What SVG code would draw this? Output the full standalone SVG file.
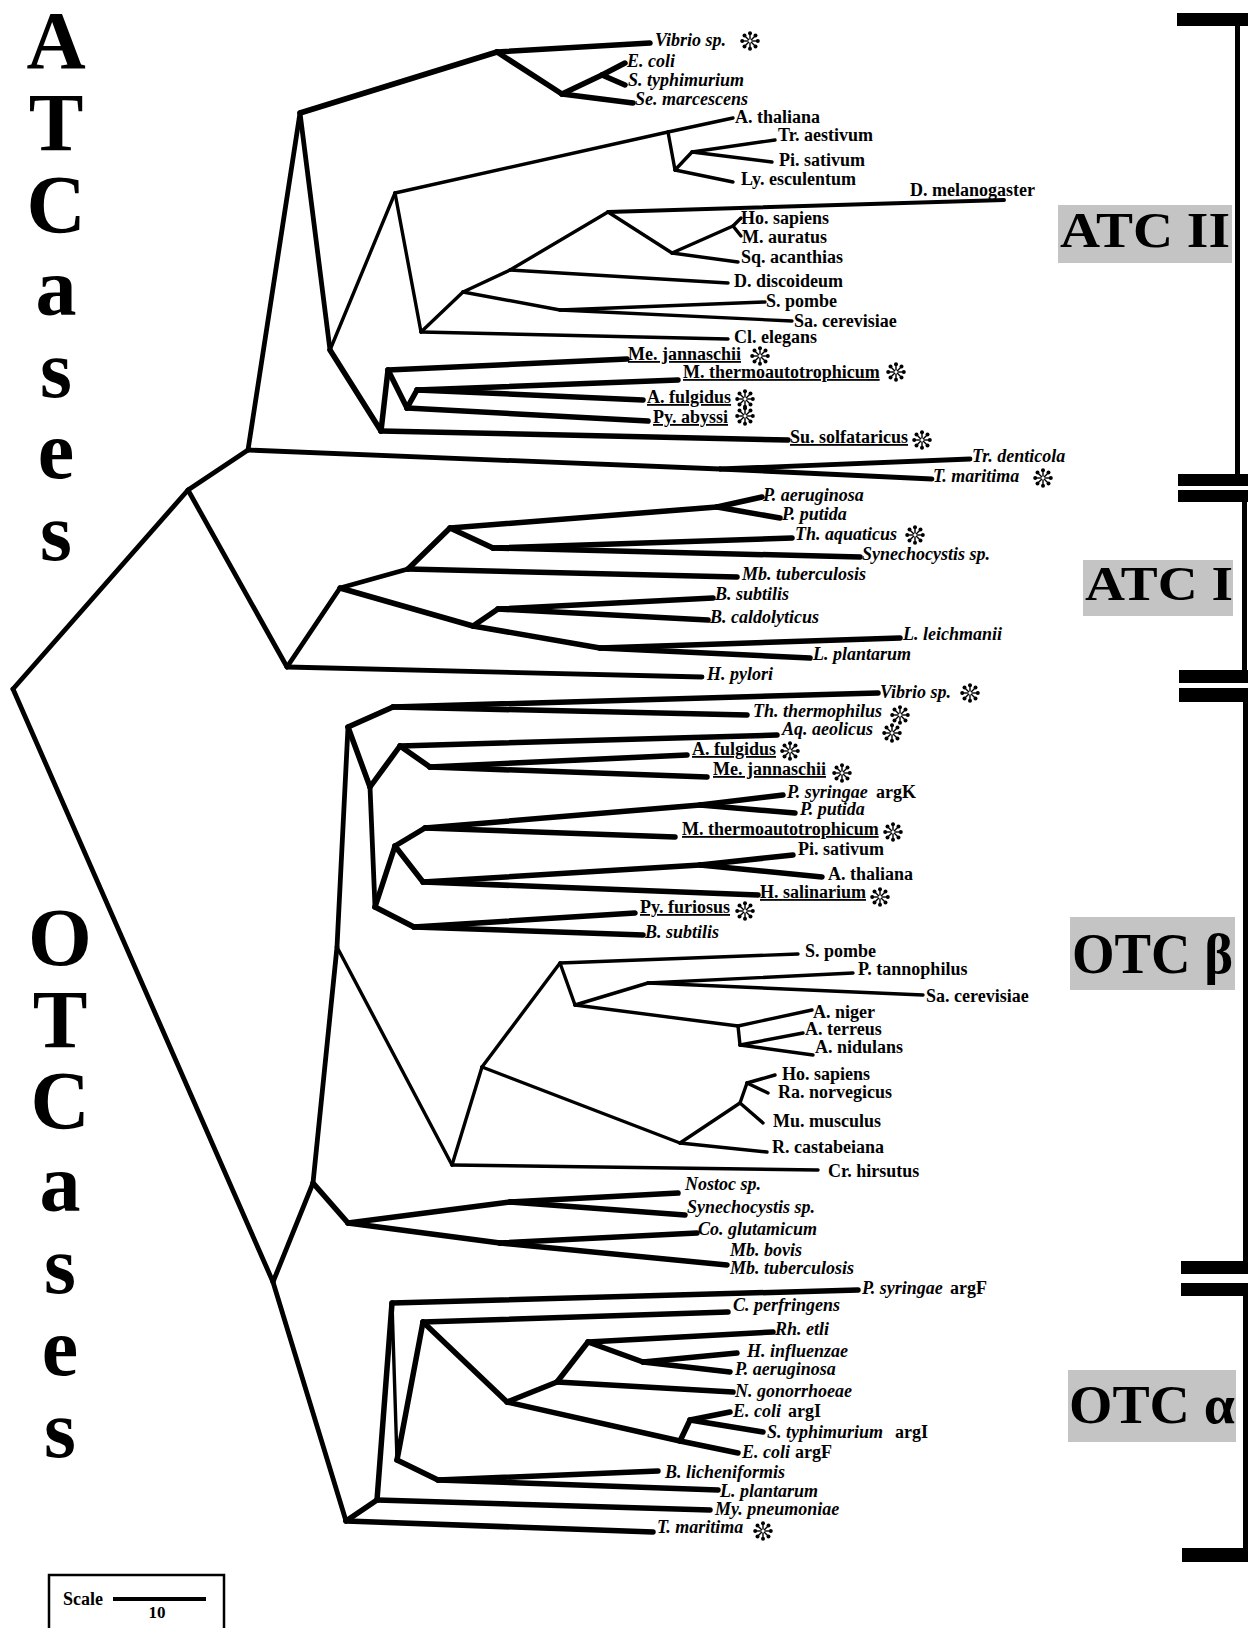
<svg xmlns="http://www.w3.org/2000/svg" width="1248" height="1628" viewBox="0 0 1248 1628">
<style>
text{font-family:"Liberation Serif","Times New Roman",serif;font-weight:bold;font-size:18px;fill:#000}
.i{font-style:italic}
.u{text-decoration:underline}
.big{font-size:82px;text-anchor:middle}
.box{fill:#c4c4c4}
.tag{font-size:50px}
#connectors line{stroke:#000;stroke-linecap:round;fill:none}
.k{stroke-width:5.5}
.m{stroke-width:4.8}
.t{stroke-width:3.4}
</style>
<defs>
<g id="ast" stroke="#000" fill="#000">
<line x1="0" y1="-1.5" x2="0" y2="-6.5" stroke-width="1.4"/>
<line x1="0" y1="1.5" x2="0" y2="6.5" stroke-width="1.4"/>
<line x1="1.5" y1="0" x2="6.5" y2="0" stroke-width="1.4"/>
<line x1="-1.5" y1="0" x2="-6.5" y2="0" stroke-width="1.4"/>
<line x1="1.1" y1="1.1" x2="4.6" y2="4.6" stroke-width="1.4"/>
<line x1="-1.1" y1="1.1" x2="-4.6" y2="4.6" stroke-width="1.4"/>
<line x1="1.1" y1="-1.1" x2="4.6" y2="-4.6" stroke-width="1.4"/>
<line x1="-1.1" y1="-1.1" x2="-4.6" y2="-4.6" stroke-width="1.4"/>
<circle cx="0" cy="-7.8" r="2" stroke="none"/>
<circle cx="0" cy="7.8" r="2" stroke="none"/>
<circle cx="7.8" cy="0" r="2" stroke="none"/>
<circle cx="-7.8" cy="0" r="2" stroke="none"/>
<circle cx="5.5" cy="5.5" r="2" stroke="none"/>
<circle cx="-5.5" cy="5.5" r="2" stroke="none"/>
<circle cx="5.5" cy="-5.5" r="2" stroke="none"/>
<circle cx="-5.5" cy="-5.5" r="2" stroke="none"/>
</g>
</defs>
<rect width="1248" height="1628" fill="#fff"/>

<g id="title-atcases">
<text class="big"><tspan x="56" y="68">A</tspan><tspan x="56" y="150">T</tspan><tspan x="56" y="232">C</tspan><tspan x="56" y="315">a</tspan><tspan x="56" y="397">s</tspan><tspan x="56" y="478">e</tspan><tspan x="56" y="560">s</tspan></text>
</g>
<g id="title-otcases">
<text class="big"><tspan x="60" y="965">O</tspan><tspan x="60" y="1047">T</tspan><tspan x="60" y="1128">C</tspan><tspan x="60" y="1211">a</tspan><tspan x="60" y="1293">s</tspan><tspan x="60" y="1375">e</tspan><tspan x="60" y="1457">s</tspan></text>
</g>

<g id="brackets" fill="#000">
<rect x="1177" y="13" width="71" height="13"/>
<rect x="1235" y="13" width="5" height="473"/>
<rect x="1178" y="474" width="70" height="12"/>
<rect x="1178" y="490" width="70" height="12"/>
<rect x="1242" y="490" width="5" height="193"/>
<rect x="1179" y="670" width="69" height="13"/>
<rect x="1179" y="688" width="69" height="14"/>
<rect x="1243" y="688" width="5" height="586"/>
<rect x="1181" y="1261" width="67" height="13"/>
<rect x="1181" y="1283" width="67" height="13"/>
<rect x="1243" y="1283" width="5" height="279"/>
<rect x="1182" y="1548" width="66" height="14"/>
</g>

<g id="label-atc2"><rect class="box" x="1058" y="205" width="174" height="58"/><text class="tag" x="1060" y="247" textLength="170" lengthAdjust="spacingAndGlyphs">ATC II</text></g>
<g id="label-atc1"><rect class="box" x="1083" y="560" width="150" height="56"/><text class="tag" x="1085" y="600" style="font-size:48px" textLength="148" lengthAdjust="spacingAndGlyphs">ATC I</text></g>
<g id="label-otcb"><rect class="box" x="1070" y="917" width="165" height="73"/><text class="tag" x="1072" y="973" style="font-size:58px" textLength="161" lengthAdjust="spacingAndGlyphs">OTC β</text></g>
<g id="label-otca"><rect class="box" x="1068" y="1370" width="168" height="72"/><text class="tag" x="1069" y="1423" style="font-size:54px" textLength="166" lengthAdjust="spacingAndGlyphs">OTC α</text></g>

<g id="connectors">
<line class="m" x1="13" y1="689" x2="188" y2="490"/>
<line class="m" x1="188" y1="490" x2="248" y2="450"/>
<line class="m" x1="248" y1="450" x2="300" y2="113"/>
<line class="m" x1="248" y1="450" x2="720" y2="469"/>
<line class="m" x1="720" y1="469" x2="970" y2="459"/>
<line class="m" x1="720" y1="469" x2="932" y2="479"/>
<line class="k" x1="300" y1="113" x2="497" y2="52"/>
<line class="k" x1="497" y1="52" x2="650" y2="43"/>
<line class="k" x1="497" y1="52" x2="562" y2="94"/>
<line class="k" x1="562" y1="94" x2="633" y2="103"/>
<line class="k" x1="562" y1="94" x2="602" y2="75"/>
<line class="k" x1="602" y1="75" x2="625" y2="63"/>
<line class="k" x1="602" y1="75" x2="625" y2="85"/>
<line class="m" x1="300" y1="113" x2="330" y2="350"/>
<line class="t" x1="330" y1="350" x2="395" y2="193"/>
<line class="t" x1="395" y1="193" x2="668" y2="132"/>
<line class="t" x1="668" y1="132" x2="733" y2="118"/>
<line class="t" x1="668" y1="132" x2="675" y2="170"/>
<line class="t" x1="675" y1="170" x2="692" y2="152"/>
<line class="t" x1="692" y1="152" x2="775" y2="140"/>
<line class="t" x1="692" y1="152" x2="772" y2="162"/>
<line class="t" x1="675" y1="170" x2="733" y2="182"/>
<line class="t" x1="395" y1="193" x2="421" y2="332"/>
<line class="t" x1="421" y1="332" x2="728" y2="339"/>
<line class="t" x1="421" y1="332" x2="463" y2="292"/>
<line class="t" x1="463" y1="292" x2="510" y2="270"/>
<line class="t" x1="463" y1="292" x2="560" y2="310"/>
<line class="t" x1="560" y1="310" x2="765" y2="302"/>
<line class="t" x1="560" y1="310" x2="792" y2="321"/>
<line class="t" x1="510" y1="270" x2="728" y2="283"/>
<line class="t" x1="510" y1="270" x2="608" y2="212"/>
<line class="t" x1="608" y1="212" x2="1004" y2="200" style="stroke-width:4"/>
<line class="t" x1="608" y1="212" x2="672" y2="253"/>
<line class="t" x1="672" y1="253" x2="733" y2="226"/>
<line class="t" x1="733" y1="226" x2="741" y2="218"/>
<line class="t" x1="733" y1="226" x2="741" y2="236"/>
<line class="t" x1="672" y1="253" x2="738" y2="262"/>
<line class="k" x1="330" y1="350" x2="381" y2="431"/>
<line class="k" x1="381" y1="431" x2="788" y2="440"/>
<line class="k" x1="381" y1="431" x2="388" y2="370"/>
<line class="k" x1="388" y1="370" x2="627" y2="359"/>
<line class="k" x1="388" y1="370" x2="407" y2="408"/>
<line class="k" x1="407" y1="408" x2="648" y2="421"/>
<line class="k" x1="407" y1="408" x2="417" y2="390"/>
<line class="k" x1="417" y1="390" x2="678" y2="380"/>
<line class="k" x1="417" y1="390" x2="643" y2="400"/>
<line class="m" x1="188" y1="490" x2="287" y2="667"/>
<line class="m" x1="287" y1="667" x2="702" y2="677"/>
<line class="m" x1="287" y1="667" x2="340" y2="588"/>
<line class="m" x1="340" y1="588" x2="408" y2="569"/>
<line class="k" x1="408" y1="569" x2="737" y2="577"/>
<line class="k" x1="408" y1="569" x2="450" y2="528"/>
<line class="k" x1="450" y1="528" x2="717" y2="507"/>
<line class="k" x1="717" y1="507" x2="762" y2="497"/>
<line class="k" x1="717" y1="507" x2="780" y2="518"/>
<line class="k" x1="450" y1="528" x2="493" y2="548"/>
<line class="k" x1="493" y1="548" x2="792" y2="538"/>
<line class="k" x1="493" y1="548" x2="860" y2="557"/>
<line class="k" x1="340" y1="588" x2="473" y2="626"/>
<line class="k" x1="473" y1="626" x2="498" y2="609"/>
<line class="k" x1="498" y1="609" x2="713" y2="598"/>
<line class="k" x1="498" y1="609" x2="708" y2="620"/>
<line class="k" x1="473" y1="626" x2="600" y2="648"/>
<line class="k" x1="600" y1="648" x2="900" y2="638"/>
<line class="k" x1="600" y1="648" x2="810" y2="658"/>
<line class="m" x1="13" y1="689" x2="273" y2="1282"/>
<line class="m" x1="273" y1="1282" x2="313" y2="1183"/>
<line class="m" x1="313" y1="1183" x2="337" y2="947"/>
<line class="m" x1="337" y1="947" x2="348" y2="727"/>
<line class="t" x1="337" y1="947" x2="452" y2="1165"/>
<line class="k" x1="348" y1="727" x2="393" y2="707"/>
<line class="k" x1="393" y1="707" x2="878" y2="693"/>
<line class="k" x1="393" y1="707" x2="747" y2="715"/>
<line class="k" x1="348" y1="727" x2="370" y2="787"/>
<line class="k" x1="370" y1="787" x2="400" y2="746"/>
<line class="k" x1="400" y1="746" x2="777" y2="735"/>
<line class="k" x1="400" y1="746" x2="430" y2="767"/>
<line class="k" x1="430" y1="767" x2="687" y2="755"/>
<line class="k" x1="430" y1="767" x2="707" y2="777"/>
<line class="m" x1="370" y1="787" x2="375" y2="907"/>
<line class="k" x1="375" y1="907" x2="395" y2="846"/>
<line class="k" x1="395" y1="846" x2="425" y2="828"/>
<line class="k" x1="425" y1="828" x2="675" y2="837"/>
<line class="k" x1="425" y1="828" x2="700" y2="805"/>
<line class="k" x1="700" y1="805" x2="783" y2="795"/>
<line class="k" x1="700" y1="805" x2="795" y2="813"/>
<line class="k" x1="395" y1="846" x2="423" y2="882"/>
<line class="k" x1="423" y1="882" x2="700" y2="865"/>
<line class="k" x1="700" y1="865" x2="793" y2="855"/>
<line class="k" x1="700" y1="865" x2="822" y2="877"/>
<line class="k" x1="423" y1="882" x2="758" y2="895"/>
<line class="k" x1="375" y1="907" x2="414" y2="927"/>
<line class="k" x1="414" y1="927" x2="635" y2="913"/>
<line class="k" x1="414" y1="927" x2="643" y2="935"/>
<line class="t" x1="452" y1="1165" x2="818" y2="1170"/>
<line class="t" x1="452" y1="1165" x2="482" y2="1067"/>
<line class="t" x1="482" y1="1067" x2="560" y2="963"/>
<line class="t" x1="560" y1="963" x2="798" y2="954"/>
<line class="t" x1="560" y1="963" x2="575" y2="1005"/>
<line class="t" x1="575" y1="1005" x2="648" y2="983"/>
<line class="t" x1="648" y1="983" x2="853" y2="973"/>
<line class="t" x1="648" y1="983" x2="923" y2="995"/>
<line class="t" x1="575" y1="1005" x2="738" y2="1026"/>
<line class="t" x1="738" y1="1026" x2="812" y2="1010"/>
<line class="t" x1="738" y1="1026" x2="740" y2="1045"/>
<line class="t" x1="740" y1="1045" x2="803" y2="1033"/>
<line class="t" x1="740" y1="1045" x2="813" y2="1055"/>
<line class="t" x1="482" y1="1067" x2="680" y2="1143"/>
<line class="t" x1="680" y1="1143" x2="767" y2="1152"/>
<line class="t" x1="680" y1="1143" x2="740" y2="1103"/>
<line class="t" x1="740" y1="1103" x2="763" y2="1123"/>
<line class="t" x1="740" y1="1103" x2="747" y2="1083"/>
<line class="t" x1="747" y1="1083" x2="775" y2="1075"/>
<line class="t" x1="747" y1="1083" x2="768" y2="1093"/>
<line class="k" x1="313" y1="1183" x2="348" y2="1223"/>
<line class="k" x1="348" y1="1223" x2="510" y2="1202"/>
<line class="k" x1="510" y1="1202" x2="678" y2="1193"/>
<line class="k" x1="510" y1="1202" x2="685" y2="1215"/>
<line class="k" x1="348" y1="1223" x2="500" y2="1243"/>
<line class="k" x1="500" y1="1243" x2="697" y2="1233"/>
<line class="k" x1="500" y1="1243" x2="727" y2="1265"/>
<line class="m" x1="273" y1="1282" x2="346" y2="1521"/>
<line class="k" x1="346" y1="1521" x2="653" y2="1532"/>
<line class="k" x1="346" y1="1521" x2="377" y2="1500"/>
<line class="k" x1="377" y1="1500" x2="710" y2="1510"/>
<line class="k" x1="377" y1="1500" x2="392" y2="1303"/>
<line class="k" x1="392" y1="1303" x2="858" y2="1290"/>
<line class="t" x1="392" y1="1303" x2="397" y2="1460"/>
<line class="k" x1="397" y1="1460" x2="423" y2="1322"/>
<line class="k" x1="423" y1="1322" x2="728" y2="1312"/>
<line class="k" x1="423" y1="1322" x2="507" y2="1402"/>
<line class="k" x1="507" y1="1402" x2="557" y2="1382"/>
<line class="k" x1="557" y1="1382" x2="733" y2="1392"/>
<line class="k" x1="557" y1="1382" x2="588" y2="1342"/>
<line class="k" x1="588" y1="1342" x2="773" y2="1332"/>
<line class="k" x1="588" y1="1342" x2="643" y2="1362"/>
<line class="k" x1="643" y1="1362" x2="737" y2="1353"/>
<line class="k" x1="643" y1="1362" x2="730" y2="1372"/>
<line class="k" x1="507" y1="1402" x2="680" y2="1441"/>
<line class="k" x1="680" y1="1441" x2="738" y2="1453"/>
<line class="k" x1="680" y1="1441" x2="690" y2="1420"/>
<line class="k" x1="690" y1="1420" x2="730" y2="1412"/>
<line class="k" x1="690" y1="1420" x2="763" y2="1432"/>
<line class="k" x1="397" y1="1460" x2="438" y2="1480"/>
<line class="k" x1="438" y1="1480" x2="658" y2="1471"/>
<line class="k" x1="438" y1="1480" x2="718" y2="1490"/>
</g>

<g id="atc2-leaves">
<g id="a2-vibrio"><text class="i" x="655" y="46">Vibrio sp.</text><use href="#ast" x="750" y="41"/></g>
<g id="a2-ecoli"><text class="i" x="627" y="67">E. coli</text></g>
<g id="a2-styph"><text class="i" x="628" y="86">S. typhimurium</text></g>
<g id="a2-semarc"><text class="i" x="635" y="105">Se. marcescens</text></g>
<g id="a2-athal"><text x="735" y="123">A. thaliana</text></g>
<g id="a2-traest"><text x="778" y="141">Tr. aestivum</text></g>
<g id="a2-pisat"><text x="779" y="166">Pi. sativum</text></g>
<g id="a2-lyesc"><text x="741" y="185">Ly. esculentum</text></g>
<g id="a2-dmel"><text x="910" y="196">D. melanogaster</text></g>
<g id="a2-hosap"><text x="741" y="224">Ho. sapiens</text></g>
<g id="a2-maur"><text x="742" y="243">M. auratus</text></g>
<g id="a2-sqac"><text x="741" y="263">Sq. acanthias</text></g>
<g id="a2-ddisc"><text x="734" y="287">D. discoideum</text></g>
<g id="a2-spombe"><text x="766" y="307">S. pombe</text></g>
<g id="a2-sacer"><text x="794" y="327">Sa. cerevisiae</text></g>
<g id="a2-clel"><text x="734" y="343">Cl. elegans</text></g>
<g id="a2-mejan"><text class="u" x="628" y="360">Me. jannaschii</text><use href="#ast" x="760" y="356"/></g>
<g id="a2-mtherm"><text class="u" x="683" y="378">M. thermoautotrophicum</text><use href="#ast" x="896" y="372"/></g>
<g id="a2-afulg"><text class="u" x="647" y="403">A. fulgidus</text><use href="#ast" x="745" y="399"/></g>
<g id="a2-pyab"><text class="u" x="653" y="423">Py. abyssi</text><use href="#ast" x="745" y="416"/></g>
<g id="a2-susolf"><text class="u" x="790" y="443">Su. solfataricus</text><use href="#ast" x="922" y="440"/></g>
<g id="a2-trdent"><text class="i" x="972" y="462">Tr. denticola</text></g>
<g id="a2-tmar"><text class="i" x="933" y="482">T. maritima</text><use href="#ast" x="1043" y="478"/></g>
</g>

<g id="atc1-leaves">
<g id="a1-paer"><text class="i" x="763" y="501">P. aeruginosa</text></g>
<g id="a1-pput"><text class="i" x="782" y="520">P. putida</text></g>
<g id="a1-thaq"><text class="i" x="795" y="540">Th. aquaticus</text><use href="#ast" x="915" y="535"/></g>
<g id="a1-syn"><text class="i" x="862" y="560">Synechocystis sp.</text></g>
<g id="a1-mbtub"><text class="i" x="742" y="580">Mb. tuberculosis</text></g>
<g id="a1-bsub"><text class="i" x="715" y="600">B. subtilis</text></g>
<g id="a1-bcald"><text class="i" x="710" y="623">B. caldolyticus</text></g>
<g id="a1-lleich"><text class="i" x="903" y="640">L. leichmanii</text></g>
<g id="a1-lplant"><text class="i" x="813" y="660">L. plantarum</text></g>
<g id="a1-hpyl"><text class="i" x="707" y="680">H. pylori</text></g>
</g>

<g id="otcb-leaves">
<g id="b-vibrio"><text class="i" x="880" y="698">Vibrio sp.</text><use href="#ast" x="970" y="693"/></g>
<g id="b-ththerm"><text class="i" x="753" y="717">Th. thermophilus</text><use href="#ast" x="900" y="715"/></g>
<g id="b-aqaeol"><text class="i" x="782" y="735">Aq. aeolicus</text><use href="#ast" x="892" y="733"/></g>
<g id="b-afulg"><text class="u" x="692" y="755">A. fulgidus</text><use href="#ast" x="790" y="751"/></g>
<g id="b-mejan"><text class="u" x="713" y="775">Me. jannaschii</text><use href="#ast" x="842" y="773"/></g>
<g id="b-psyr"><text x="787" y="798"><tspan class="i">P. syringae</tspan><tspan x="876">argK</tspan></text></g>
<g id="b-pput"><text class="i" x="800" y="815">P. putida</text></g>
<g id="b-mtherm"><text class="u" x="682" y="835">M. thermoautotrophicum</text><use href="#ast" x="893" y="832"/></g>
<g id="b-pisat"><text x="798" y="855">Pi. sativum</text></g>
<g id="b-athal"><text x="828" y="880">A. thaliana</text></g>
<g id="b-hsal"><text class="u" x="760" y="898">H. salinarium</text><use href="#ast" x="880" y="897"/></g>
<g id="b-pyfur"><text class="u" x="640" y="913">Py. furiosus</text><use href="#ast" x="745" y="911"/></g>
<g id="b-bsub"><text class="i" x="645" y="938">B. subtilis</text></g>
<g id="b-spombe"><text x="805" y="957">S. pombe</text></g>
<g id="b-ptann"><text x="858" y="975">P. tannophilus</text></g>
<g id="b-sacer"><text x="926" y="1002">Sa. cerevisiae</text></g>
<g id="b-aniger"><text x="813" y="1018">A. niger</text></g>
<g id="b-aterr"><text x="805" y="1035">A. terreus</text></g>
<g id="b-anid"><text x="815" y="1053">A. nidulans</text></g>
<g id="b-hosap"><text x="782" y="1080">Ho. sapiens</text></g>
<g id="b-ranorv"><text x="778" y="1098">Ra. norvegicus</text></g>
<g id="b-mumus"><text x="773" y="1127">Mu. musculus</text></g>
<g id="b-rcast"><text x="772" y="1153">R. castabeiana</text></g>
<g id="b-crhirs"><text x="828" y="1177">Cr. hirsutus</text></g>
<g id="b-nostoc"><text class="i" x="685" y="1190">Nostoc sp.</text></g>
<g id="b-syn"><text class="i" x="687" y="1213">Synechocystis sp.</text></g>
<g id="b-coglut"><text class="i" x="698" y="1235">Co. glutamicum</text></g>
<g id="b-mbbov"><text class="i" x="730" y="1256">Mb. bovis</text></g>
<g id="b-mbtub"><text class="i" x="730" y="1274">Mb. tuberculosis</text></g>
</g>

<g id="otca-leaves">
<g id="a-psyr"><text x="862" y="1294"><tspan class="i">P. syringae</tspan><tspan x="950">argF</tspan></text></g>
<g id="a-cperf"><text class="i" x="733" y="1311">C. perfringens</text></g>
<g id="a-rhetli"><text class="i" x="775" y="1335">Rh. etli</text></g>
<g id="a-hinfl"><text class="i" x="747" y="1357">H. influenzae</text></g>
<g id="a-paer"><text class="i" x="735" y="1375">P. aeruginosa</text></g>
<g id="a-ngon"><text class="i" x="735" y="1397">N. gonorrhoeae</text></g>
<g id="a-ecoli1"><text x="733" y="1417"><tspan class="i">E. coli</tspan><tspan x="788">argI</tspan></text></g>
<g id="a-styph"><text x="767" y="1438"><tspan class="i">S. typhimurium</tspan><tspan x="895">argI</tspan></text></g>
<g id="a-ecolif"><text x="742" y="1458"><tspan class="i">E. coli</tspan><tspan x="795">argF</tspan></text></g>
<g id="a-blich"><text class="i" x="665" y="1478">B. licheniformis</text></g>
<g id="a-lplant"><text class="i" x="720" y="1497">L. plantarum</text></g>
<g id="a-mypn"><text class="i" x="715" y="1515">My. pneumoniae</text></g>
<g id="a-tmar"><text class="i" x="657" y="1533">T. maritima</text><use href="#ast" x="763" y="1531"/></g>
</g>

<g id="scale">
<rect x="49" y="1575" width="175" height="70" fill="none" stroke="#000" stroke-width="2.5"/>
<text x="63" y="1605">Scale</text>
<line x1="113" y1="1599" x2="206" y2="1599" stroke="#000" stroke-width="4"/>
<text x="157" y="1618" style="font-size:17px" text-anchor="middle">10</text>
</g>
</svg>
